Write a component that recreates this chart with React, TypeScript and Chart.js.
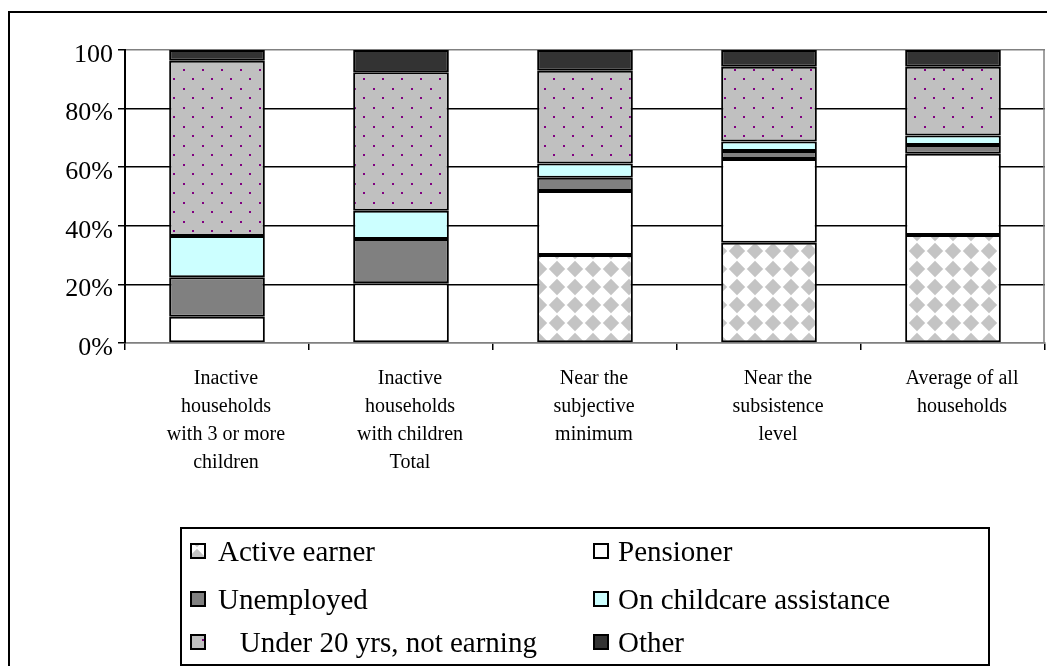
import React, { useEffect, useRef } from 'react';
import Chart from 'chart.js/auto';

// ---------- data ----------
const categories: string[][] = [
  ['Inactive', 'households', 'with 3 or more', 'children'],
  ['Inactive', 'households', 'with children', 'Total'],
  ['Near the', 'subjective', 'minimum'],
  ['Near the', 'subsistence', 'level'],
  ['Average of all', 'households'],
];
const seriesNames = [
  'Active earner',
  'Pensioner',
  'Unemployed',
  'On childcare assistance',
  '   Under 20 yrs, not earning',
  'Other',
];
const activeEarner = [0, 0, 30.0, 34.2, 36.9];
const pensioner = [9.0, 20.4, 21.9, 28.6, 27.7];
const unemployed = [13.4, 15.1, 4.5, 2.7, 3.0];
const childcare = [14.1, 9.6, 4.9, 3.3, 3.2];
const under20 = [59.8, 47.3, 31.6, 25.5, 23.5];
const other = [3.7, 7.6, 7.1, 5.7, 5.7];
const yTickLabels = ['0%', '20%', '40%', '60%', '80%', '100'];

const FONT = "'Liberation Serif', 'Times New Roman', serif";

function diamondPattern(ctx: CanvasRenderingContext2D) {
  const s = 18;
  const c = document.createElement('canvas');
  c.width = s;
  c.height = s;
  const g = c.getContext('2d')!;
  g.fillStyle = '#ffffff';
  g.fillRect(0, 0, s, s);
  g.fillStyle = '#c4c4c4';
  g.beginPath();
  g.moveTo(s / 2, 0.8);
  g.lineTo(s - 0.8, s / 2);
  g.lineTo(s / 2, s - 0.8);
  g.lineTo(0.8, s / 2);
  g.closePath();
  g.fill();
  return ctx.createPattern(c, 'repeat')!;
}

function dotPattern(ctx: CanvasRenderingContext2D) {
  const s = 19;
  const c = document.createElement('canvas');
  c.width = s;
  c.height = s;
  const g = c.getContext('2d')!;
  g.fillStyle = '#c0c0c0';
  g.fillRect(0, 0, s, s);
  g.fillStyle = '#800080';
  g.fillRect(4, 4, 2, 2);
  g.fillRect(13, 13, 2, 2);
  return ctx.createPattern(c, 'repeat')!;
}

export default function App() {
  const ref = useRef<HTMLCanvasElement | null>(null);

  useEffect(() => {
    const canvas = ref.current!;
    const ctx = canvas.getContext('2d')!;
    const fills: any[] = [
      diamondPattern(ctx),
      '#ffffff',
      '#808080',
      '#ccffff',
      dotPattern(ctx),
      '#333333',
    ];
    const values = [activeEarner, pensioner, unemployed, childcare, under20, other];

    const legendCols = [183, 586];
    const legendTextCols = [210, 610];
    const legendRows = [543, 591, 634];

    const decor = {
      id: 'decor',
      afterDraw(chart: any) {
        const c = chart.ctx as CanvasRenderingContext2D;
        const a = chart.chartArea;
        c.save();
        // plot area right border
        c.strokeStyle = '#808080';
        c.lineWidth = 1.5;
        c.beginPath();
        c.moveTo(a.right - 1, a.top);
        c.lineTo(a.right - 1, a.bottom);
        c.stroke();
        // outer frame
        c.strokeStyle = '#000';
        c.lineWidth = 2;
        c.strokeRect(1, 4, chart.width + 20, chart.height + 20);
        // legend box
        c.strokeRect(173, 520, 808, 137);
        // legend items
        c.font = `29px ${FONT}`;
        c.textBaseline = 'middle';
        c.textAlign = 'left';
        seriesNames.forEach((name, i) => {
          const col = i % 2;
          const row = Math.floor(i / 2);
          const mx = legendCols[col];
          const my = legendRows[row];
          c.fillStyle = fills[i];
          c.fillRect(mx, my - 7, 14, 14);
          c.strokeStyle = '#000';
          c.lineWidth = 2;
          c.strokeRect(mx, my - 7, 14, 14);
          c.fillStyle = '#000';
          c.fillText(name, legendTextCols[col], my + 2);
        });
        c.restore();
      },
    };

    const chart = new Chart(canvas, {
      type: 'bar',
      data: {
        labels: categories,
        datasets: seriesNames.map((name, i) => ({
          label: name,
          data: values[i],
          backgroundColor: fills[i],
          borderColor: '#000',
          borderWidth: 2,
          borderSkipped: false,
          categoryPercentage: 1,
          barPercentage: 0.52,
        })),
      },
      options: {
        animation: false,
        responsive: false,
        maintainAspectRatio: false,
        layout: { padding: { top: 42, right: 2, left: 0, bottom: 0 } },
        plugins: {
          legend: { display: false },
          tooltip: { enabled: false },
        },
        scales: {
          x: {
            stacked: true,
            offset: true,
            afterFit: (s: any) => {
              s.height = 323;
            },
            grid: {
              offset: true,
              drawOnChartArea: false,
              drawTicks: true,
              tickLength: 7,
              tickColor: '#000',
              color: '#000',
              lineWidth: 1.5,
            },
            border: { display: true, color: '#808080', width: 1.5 },
            ticks: {
              color: '#000',
              font: { family: FONT, size: 20, lineHeight: 1.4 },
              padding: 15,
              labelOffset: 9,
              maxRotation: 0,
              autoSkip: false,
            },
          },
          y: {
            stacked: true,
            min: 0,
            max: 100,
            afterFit: (s: any) => {
              s.width = 117;
            },
            grid: {
              color: (c: any) =>
                c.tick && (c.tick.value === 0 || c.tick.value === 100) ? '#808080' : '#000',
              lineWidth: 1.5,
              tickLength: 7,
              tickColor: '#000',
            },
            border: { display: true, color: '#000', width: 2 },
            ticks: {
              stepSize: 20,
              color: '#000',
              font: { family: FONT, size: 26 },
              padding: 5,
              labelOffset: 5,
              callback: (v: any) => yTickLabels[Math.round(Number(v) / 20)],
            },
          },
        },
      },
      plugins: [decor],
    } as any);
    return () => chart.destroy();
  }, []);

  return (
    <div style={{ position: 'absolute', left: 8, top: 8, width: 1039, height: 658 }}>
      <canvas ref={ref} width={1039} height={658} style={{ display: 'block' }} />
    </div>
  );
}
